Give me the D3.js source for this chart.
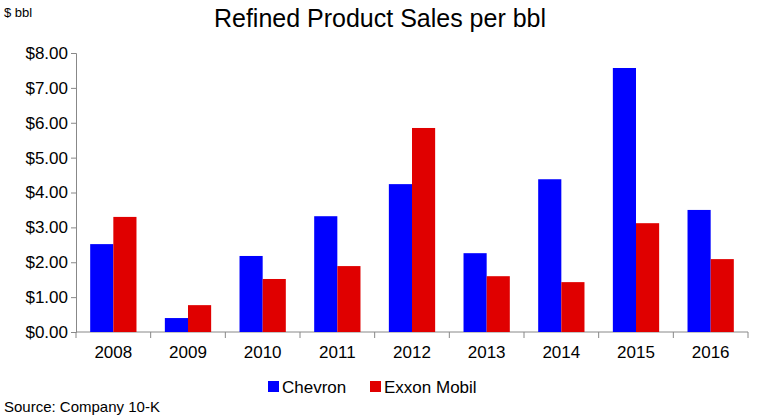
<!DOCTYPE html>
<html>
<head>
<meta charset="utf-8">
<script src="https://cdn.jsdelivr.net/npm/d3@7"></script>
<style>
  body { margin: 0; background: #fff; }
  text { font-family: 'Liberation Sans', Arial, sans-serif; fill: #000; }
</style>
</head>
<body>
<svg id="chart" width="758" height="418"></svg>
<script>
const years = ['2008', '2009', '2010', '2011', '2012', '2013', '2014', '2015', '2016']
const chevron = [2.52, 0.40, 2.18, 3.32, 4.24, 2.26, 4.38, 7.57, 3.50]
const exxon = [3.30, 0.77, 1.52, 1.89, 5.85, 1.60, 1.43, 3.12, 2.09]
const yTicks = [0, 1, 2, 3, 4, 5, 6, 7, 8]
const seriesNames = ['Chevron', 'Exxon Mobil']
const colors = ['#0000ff', '#e00000']

const svg = d3.select('#chart')
const mLeft = 76
const mRight = 748
const mTop = 53
const mBottom = 332

const x = d3.scaleBand().domain(years).range([mLeft, mRight]).paddingInner(0.38).paddingOuter(0.19)
const xs = d3.scaleBand().domain([0, 1]).range([0, x.bandwidth()])
const y = d3.scaleLinear().domain([0, 8]).range([mBottom, mTop])

// y axis
const yAxis = svg.append('g')
  .attr('transform', `translate(${mLeft},0)`)
  .call(d3.axisLeft(y).tickValues(yTicks).tickSize(5).tickFormat(d => '$' + d.toFixed(2)))
yAxis.select('.domain').attr('stroke', '#888')
yAxis.selectAll('line').attr('stroke', '#888')
yAxis.selectAll('text').style('font-size', '17px').attr('x', -8)

// x axis with ticks between categories
const step = x.step()
svg.append('line')
  .attr('x1', mLeft).attr('x2', mRight).attr('y1', mBottom).attr('y2', mBottom)
  .attr('stroke', '#888')
years.forEach((yr, i) => {
  const bx = mLeft + i * step
  svg.append('line').attr('x1', bx).attr('x2', bx).attr('y1', mBottom).attr('y2', mBottom + 6).attr('stroke', '#888')
  svg.append('text')
    .attr('x', x(yr) + x.bandwidth() / 2)
    .attr('y', mBottom + 26)
    .attr('text-anchor', 'middle')
    .style('font-size', '17px')
    .text(yr)
})
svg.append('line').attr('x1', mRight).attr('x2', mRight).attr('y1', mBottom).attr('y2', mBottom + 6).attr('stroke', '#888')

// bars
;[chevron, exxon].forEach((vals, s) => {
  svg.selectAll('.bar' + s)
    .data(vals)
    .enter()
    .append('rect')
    .attr('x', (d, i) => x(years[i]) + xs(s))
    .attr('width', xs.bandwidth())
    .attr('y', d => y(d))
    .attr('height', d => mBottom - y(d))
    .attr('fill', colors[s])
})

// title and labels
svg.append('text').attr('x', 380).attr('y', 27).attr('text-anchor', 'middle')
  .style('font-size', '25px').text('Refined Product Sales per bbl')
svg.append('text').attr('x', 4).attr('y', 17).style('font-size', '13px').text('$ bbl')
svg.append('text').attr('x', 4).attr('y', 412).style('font-size', '15px').text('Source: Company 10-K')

// legend
const legendX = [268, 370]
seriesNames.forEach((n, i) => {
  svg.append('rect').attr('x', legendX[i]).attr('y', 381).attr('width', 11).attr('height', 11).attr('fill', colors[i])
  svg.append('text').attr('x', legendX[i] + 14).attr('y', 393).style('font-size', '17px').text(n)
})
</script>
</body>
</html>
